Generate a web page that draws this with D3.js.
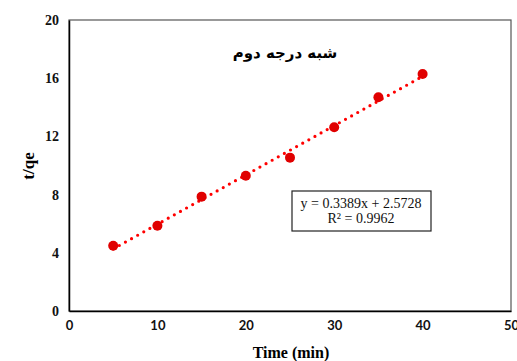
<!DOCTYPE html>
<html>
<head>
<meta charset="utf-8">
<script src="https://cdn.jsdelivr.net/npm/d3@7"></script>
<style>
  body { margin: 0; background: #fff; }
  svg { display: block; }
</style>
</head>
<body>
<svg id="chart" width="517" height="361"></svg>
<script>
// data
const times = [5, 10, 15, 20, 25, 30, 35, 40];
const tq = [4.49, 5.86, 7.86, 9.30, 10.54, 12.63, 14.69, 16.29];
const xTicks = [0, 10, 20, 30, 40, 50];
const yTicks = [0, 4, 8, 12, 16, 20];
const fitSlope = 0.3389;
const fitIntercept = 2.5728;
const fitLabel = ["y = 0.3389x + 2.5728", "R² = 0.9962"];
const title = "شبه درجه دوم";

const svg = d3.select("#chart");
const m = { left: 69, right: 6, top: 20, bottom: 50 };
const W = 517, H = 361;

const x = d3.scaleLinear().domain([0, 50]).range([m.left, W - m.right]);
const y = d3.scaleLinear().domain([0, 20]).range([H - m.bottom, m.top]);

// plot frame (top / right)
svg.append("rect")
  .attr("x", x(0)).attr("y", y(20))
  .attr("width", x(50) - x(0)).attr("height", y(0) - y(20))
  .attr("fill", "none").attr("stroke", "#555").attr("stroke-width", 1.2);

// axes
const xAxis = svg.append("g")
  .attr("transform", `translate(0,${y(0)})`)
  .call(d3.axisBottom(x).tickValues(xTicks).tickSize(0).tickPadding(10));
xAxis.select(".domain").attr("stroke", "#000").attr("stroke-width", 1.5);
xAxis.selectAll("text")
  .attr("font-family", "Lato, 'Liberation Sans', sans-serif")
  .attr("font-weight", "bold").attr("font-size", 13).attr("fill", "#111");

const yAxis = svg.append("g")
  .attr("transform", `translate(${x(0)},0)`)
  .call(d3.axisLeft(y).tickValues(yTicks).tickSize(0).tickPadding(10));
yAxis.select(".domain").attr("stroke", "#000").attr("stroke-width", 1.5);
yAxis.selectAll("text")
  .attr("font-family", "'Liberation Serif', serif")
  .attr("font-weight", "bold").attr("font-size", 14).attr("fill", "#111");

// trendline
const fit = d3.extent(times).map(t => [t, fitSlope * t + fitIntercept]);
svg.append("path")
  .datum(fit)
  .attr("d", d3.line().x(d => x(d[0])).y(d => y(d[1])))
  .attr("stroke", "#f00").attr("stroke-width", 3.2)
  .attr("stroke-linecap", "round")
  .attr("stroke-dasharray", "0 7")
  .attr("fill", "none");

// points
svg.append("g").selectAll("circle")
  .data(times.map((t, i) => [t, tq[i]]))
  .enter().append("circle")
  .attr("cx", d => x(d[0])).attr("cy", d => y(d[1]))
  .attr("r", 5).attr("fill", "#e00000");

// title
svg.append("text")
  .attr("x", 285).attr("y", 58)
  .attr("text-anchor", "middle")
  .attr("font-family", "'DejaVu Sans', sans-serif")
  .attr("font-weight", "bold").attr("font-size", 15)
  .attr("direction", "rtl")
  .text(title);

// equation box
svg.append("rect")
  .attr("x", 292).attr("y", 191).attr("width", 139).attr("height", 40)
  .attr("fill", "#fff").attr("stroke", "#222").attr("stroke-width", 1.2);
svg.append("g").selectAll("text")
  .data(fitLabel)
  .enter().append("text")
  .attr("x", 361).attr("y", (d, i) => 208 + i * 15)
  .attr("text-anchor", "middle")
  .attr("font-family", "'Liberation Serif', serif")
  .attr("font-size", 14).attr("fill", "#111")
  .text(d => d);

// axis titles
svg.append("text")
  .attr("transform", "translate(34,166) rotate(-90)")
  .attr("text-anchor", "middle")
  .attr("font-family", "'Liberation Serif', serif")
  .attr("font-weight", "bold").attr("font-size", 17)
  .text("t/qe");

svg.append("text")
  .attr("x", 291).attr("y", 358)
  .attr("text-anchor", "middle")
  .attr("font-family", "'Liberation Serif', serif")
  .attr("font-weight", "bold").attr("font-size", 16)
  .text("Time (min)");
</script>
</body>
</html>
